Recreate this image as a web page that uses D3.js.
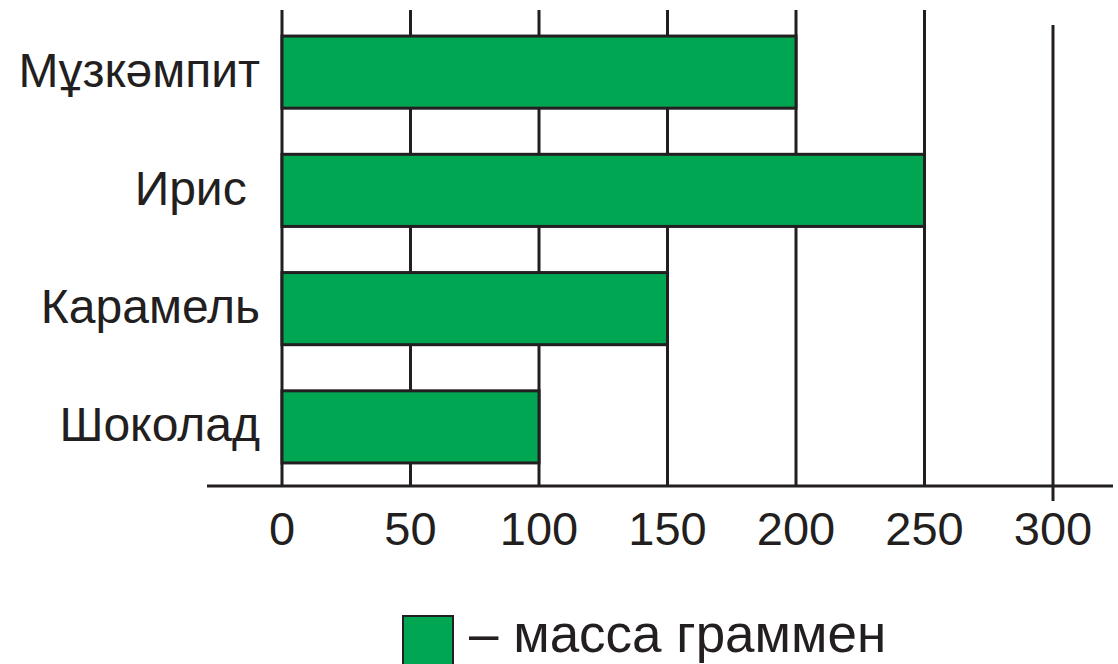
<!DOCTYPE html>
<html>
<head>
<meta charset="utf-8">
<script src="https://cdn.jsdelivr.net/npm/d3@7"></script>
<style>
  html, body { margin: 0; padding: 0; background: #fff; }
  svg { display: block; }
  text { font-family: "Liberation Sans", Arial, Helvetica, sans-serif; fill: #231f20; }
</style>
</head>
<body>
<svg id="chart" width="1118" height="664"></svg>
<script>
const categories = ["Мұзкәмпит", "Ирис\u00a0", "Карамель", "Шоколад"];
const values = [200, 250, 150, 100];
const tickValues = [0, 50, 100, 150, 200, 250, 300];
const legendLabel = "– масса граммен";

const ink = "#231f20";
const green = "#00a651";
const svg = d3.select("#chart");

const x = d3.scaleLinear().domain([0, 300]).range([282, 1053]);
const y = d3.scaleBand().domain(categories).range([13, 486]).paddingInner(0.39).paddingOuter(0.195);
const axisY = 486;

// grid lines
svg.append("g").selectAll("line").data(tickValues).join("line")
  .attr("x1", d => x(d)).attr("x2", d => x(d))
  .attr("y1", d => d === 300 ? 25 : 10)
  .attr("y2", d => d === 300 ? 501 : axisY)
  .attr("stroke", ink).attr("stroke-width", 3);

// axis line
svg.append("line")
  .attr("x1", 207).attr("x2", 1113).attr("y1", axisY).attr("y2", axisY)
  .attr("stroke", ink).attr("stroke-width", 3);

// bars
svg.append("g").selectAll("rect").data(values).join("rect")
  .attr("x", x(0))
  .attr("y", (d, i) => y(categories[i]))
  .attr("width", d => x(d) - x(0))
  .attr("height", y.bandwidth())
  .attr("fill", green).attr("stroke", ink).attr("stroke-width", 3);

// category labels
svg.append("g").selectAll("text").data(categories).join("text")
  .attr("x", 260)
  .attr("y", d => y(d) + y.bandwidth() / 2)
  .attr("dy", "0.3em")
  .attr("text-anchor", "end")
  .attr("font-size", 48)
  .text(d => d);

// tick labels
svg.append("g").selectAll("text").data(tickValues).join("text")
  .attr("x", d => x(d))
  .attr("y", 545)
  .attr("text-anchor", "middle")
  .attr("font-size", 47)
  .text(d => d);

// legend
svg.append("rect")
  .attr("x", 403).attr("y", 616).attr("width", 50).attr("height", 60)
  .attr("fill", green).attr("stroke", ink).attr("stroke-width", 2);
svg.append("text")
  .attr("x", 469).attr("y", 652)
  .attr("font-size", 53)
  .text(legendLabel);
</script>
</body>
</html>
